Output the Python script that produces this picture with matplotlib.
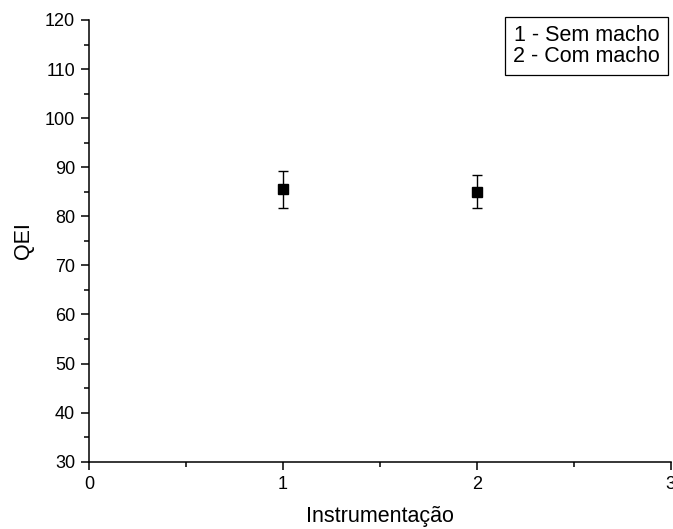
import matplotlib
matplotlib.use("Agg")
import matplotlib.pyplot as plt
from matplotlib.ticker import MultipleLocator

# data
groups = [1, 2]
qei_mean = [85.5, 85.0]
qei_err = [3.8, 3.4]
legend_lines = ["1 - Sem macho", "2 - Com macho"]

plt.rcParams['font.family'] = ['Liberation Sans', 'DejaVu Sans']

fig = plt.figure(figsize=(6.73, 5.29), dpi=100)
ax = fig.add_axes([0.1322, 0.1272, 0.8644, 0.835])

ax.errorbar(groups, qei_mean, yerr=qei_err, fmt='s', color='black',
            markersize=6.5, capsize=3.5, elinewidth=1, capthick=1)

ax.set_xlim(0, 3)
ax.set_ylim(30, 120)
ax.xaxis.set_major_locator(MultipleLocator(1))
ax.xaxis.set_minor_locator(MultipleLocator(0.5))
ax.yaxis.set_major_locator(MultipleLocator(10))
ax.yaxis.set_minor_locator(MultipleLocator(5))

for side in ['top', 'right']:
    ax.spines[side].set_visible(False)
for side in ['left', 'bottom']:
    ax.spines[side].set_linewidth(1.1)

ax.tick_params(which='major', direction='out', length=6, width=1.1,
               labelsize=13, pad=4)
ax.tick_params(which='minor', direction='out', length=3.5, width=1.1)

ax.set_xlabel('Instrumentação', fontsize=15.5, labelpad=10)
ax.set_ylabel('QEI', fontsize=15.5, labelpad=8)

ax.text(0.981, 0.988, "\n".join(legend_lines), transform=ax.transAxes,
        ha='right', va='top', fontsize=15.5, linespacing=1.0,
        bbox=dict(boxstyle='square,pad=0.38', facecolor='white',
                  edgecolor='black', linewidth=0.9))

fig.savefig('out.png', dpi=100)
